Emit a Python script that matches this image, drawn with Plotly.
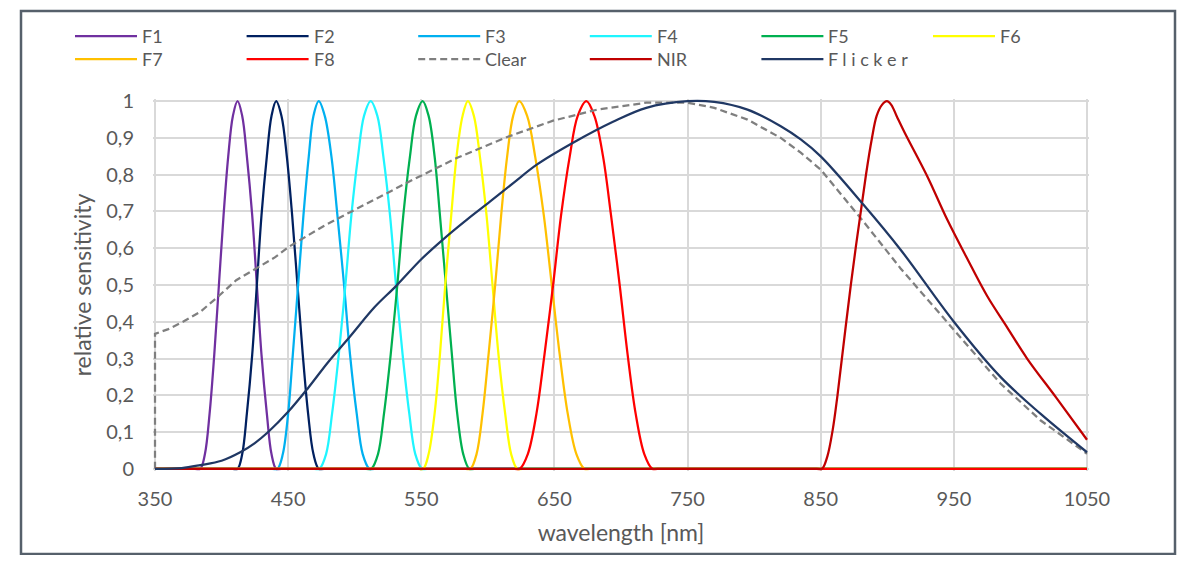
import plotly.graph_objects as go

# relative level of every filter band, from the zero floor up over the peak and back
band_levels = [0, 0, 0, 0.04, 0.15, 0.31, 0.5, 0.69, 0.85, 0.96, 1,
               0.96, 0.85, 0.69, 0.5, 0.31, 0.15, 0.04, 0, 0, 0]

# wavelengths [nm] belonging to band_levels, one list per filter channel
f1_nm = [350, 380, 384, 387.5, 391, 394.5, 398, 401.5, 405, 408.5, 412,
         415.5, 419, 423, 426.5, 430, 434, 437.5, 441, 445, 1050]
f2_nm = [350, 408, 412, 415.5, 419, 423, 426.5, 430, 434, 437.5, 441,
         445, 449, 453, 457, 461, 465, 469, 473, 477, 1050]
f3_nm = [350, 438, 442, 446, 450, 453.5, 457.5, 461.5, 465.5, 469, 473,
         477.5, 482.5, 487, 492, 496.5, 501.5, 506, 511, 515, 1050]
f4_nm = [350, 469.5, 473.5, 478.5, 483, 488, 493, 497.5, 502.5, 507, 512,
         517, 521.5, 526.5, 531, 536, 541, 545.5, 550.5, 554.5, 1050]
f5_nm = [350, 508.5, 512.5, 517.5, 522, 527, 532, 536.5, 541.5, 546, 551,
         555.5, 560, 564, 568.5, 573, 577, 581.5, 586, 590, 1050]
f6_nm = [350, 547.5, 551.5, 555.5, 560, 564, 568, 572.5, 576.5, 581, 585,
         589.5, 594, 599, 603.5, 608, 613, 617.5, 622, 626, 1050]
f7_nm = [350, 583, 587, 591.5, 596, 600.5, 605.5, 610, 614.5, 619, 623.5,
         629.5, 635.5, 642, 648, 654, 660, 666.5, 672.5, 676.5, 1050]
f8_nm = [350, 620, 624, 630, 636.5, 642.5, 649, 655, 661.5, 667.5, 674,
         680, 686.5, 692.5, 699, 705, 711, 717.5, 723.5, 727.5, 1050]

clear_nm = [350, 350, 360, 371, 384, 396, 411, 426, 440, 451, 476.5, 496.5,
            519, 544, 577, 614, 649, 682, 719, 750, 770, 795, 820, 835, 850,
            882, 910, 950, 985, 1015, 1050]
clear_val = [0, 0.367, 0.38, 0.4, 0.427, 0.464, 0.513, 0.545, 0.575, 0.605, 0.66, 0.698,
             0.741, 0.787, 0.846, 0.902, 0.947, 0.977, 0.996, 0.996, 0.982, 0.95, 0.9, 0.86, 0.814,
             0.673, 0.545, 0.377, 0.232, 0.132, 0.041]

nir_nm = [350, 847, 851, 855, 859, 862.6, 872.6, 884, 888.5, 892, 896, 899.7,
          903, 907, 913, 930, 945, 960, 975, 990, 1005, 1027, 1050]
nir_val = [0, 0, 0, 0.034, 0.106, 0.2, 0.5, 0.8, 0.9, 0.96, 0.99, 1,
           0.99, 0.96, 0.915, 0.796, 0.678, 0.572, 0.47, 0.385, 0.3, 0.193, 0.079]

flicker_nm = [350, 370, 384, 400, 414, 425, 435, 450, 465, 480, 496.5, 515, 531,
              550, 566, 585, 602, 620, 637, 664, 694, 719, 750, 770, 795, 820, 835,
              850, 882, 910, 950, 985, 1015, 1050]
flicker_val = [0, 0.002, 0.01, 0.022, 0.045, 0.07, 0.1, 0.155, 0.22, 0.29, 0.36, 0.44, 0.497,
               0.57, 0.623, 0.68, 0.728, 0.78, 0.828, 0.887, 0.944, 0.982, 1, 0.998, 0.977, 0.932, 0.896,
               0.85, 0.719, 0.596, 0.4, 0.25, 0.15, 0.045]

x_ticks = [350, 450, 550, 650, 750, 850, 950, 1050]

series = [
    ("F1", f1_nm, band_levels, "#7030a0", "solid", "spline"),
    ("F2", f2_nm, band_levels, "#002060", "solid", "spline"),
    ("F3", f3_nm, band_levels, "#00b0f0", "solid", "spline"),
    ("F4", f4_nm, band_levels, "#1ff5ff", "solid", "spline"),
    ("F5", f5_nm, band_levels, "#00b050", "solid", "spline"),
    ("F6", f6_nm, band_levels, "#ffff00", "solid", "spline"),
    ("F7", f7_nm, band_levels, "#ffc000", "solid", "spline"),
    ("F8", f8_nm, band_levels, "#ff0000", "solid", "spline"),
    ("Clear", clear_nm, clear_val, "#7f7f7f", "7px,4px", "linear"),
    ("NIR", nir_nm, nir_val, "#c00000", "solid", "spline"),
    ("F l i c k e r", flicker_nm, flicker_val, "#203864", "solid", "spline"),
]

FONT = "Lato, 'Open Sans', sans-serif"
GREY = "#595959"

# the page body adds 8px around the figure, so the figure is sized to fit inside it
PAGE_PAD = 8
W, H = 1192 - 2 * PAGE_PAD, 563 - 2 * PAGE_PAD
L, R, T, B = 145, 95, 91, 84
pw, ph = W - L - R, H - T - B


# helpers: page pixel -> paper fraction (for the frame and the hand made legend)
def px_x(px):
    return (px - PAGE_PAD - L) / pw


def px_y(py):
    return (H - B - (py - PAGE_PAD)) / ph


fig = go.Figure()
for name, xs, ys, color, dash, shape in series:
    fig.add_trace(go.Scatter(
        x=xs, y=ys, name=name, mode="lines",
        line=dict(color=color, width=2.25, dash=dash, shape=shape, smoothing=1),
        showlegend=False, hoverinfo="x+y+name",
    ))

# legend: two rows, six columns like the spreadsheet original
shapes = []
annotations = []
for i, (name, xs, ys, color, dash, shape) in enumerate(series):
    row, col = divmod(i, 6)
    x0 = 75 + col * 171.6
    yy = 36 + row * 23
    shapes.append(dict(type="line", xref="paper", yref="paper",
                       x0=px_x(x0), x1=px_x(x0 + 62), y0=px_y(yy), y1=px_y(yy),
                       line=dict(color=color, width=2.25, dash=dash)))
    annotations.append(dict(text=name, xref="paper", yref="paper",
                            x=px_x(x0 + 65), y=px_y(yy), xanchor="left", yanchor="middle",
                            showarrow=False, font=dict(family=FONT, size=18, color=GREY)))

# outer frame around the whole chart
shapes.append(dict(type="rect", xref="paper", yref="paper",
                   x0=px_x(21), x1=px_x(1175), y0=px_y(554), y1=px_y(11),
                   line=dict(color="#56606b", width=2.5), fillcolor="rgba(0,0,0,0)"))

fig.update_layout(
    width=W, height=H,
    margin=dict(l=L, r=R, t=T, b=B),
    paper_bgcolor="white", plot_bgcolor="white",
    separators=", ",
    font=dict(family=FONT, size=20, color=GREY),
    shapes=shapes,
    annotations=annotations,
    xaxis=dict(
        range=[348.5, 1051.5], tickvals=x_ticks, showgrid=True,
        gridcolor="#d9d9d9", gridwidth=1.5, zeroline=False, showline=False,
        ticks="", ticklabelstandoff=14,
        title=dict(text="wavelength [nm]", font=dict(size=23, color=GREY), standoff=15),
    ),
    yaxis=dict(
        range=[-0.006, 1.006], tick0=0, dtick=0.1, showgrid=True,
        gridcolor="#d9d9d9", gridwidth=1.5, zeroline=False, showline=False,
        ticks="", ticklabelstandoff=18,
        title=dict(text="relative sensitivity", font=dict(size=23, color=GREY), standoff=8),
    ),
)

fig.write_html("out.html")
